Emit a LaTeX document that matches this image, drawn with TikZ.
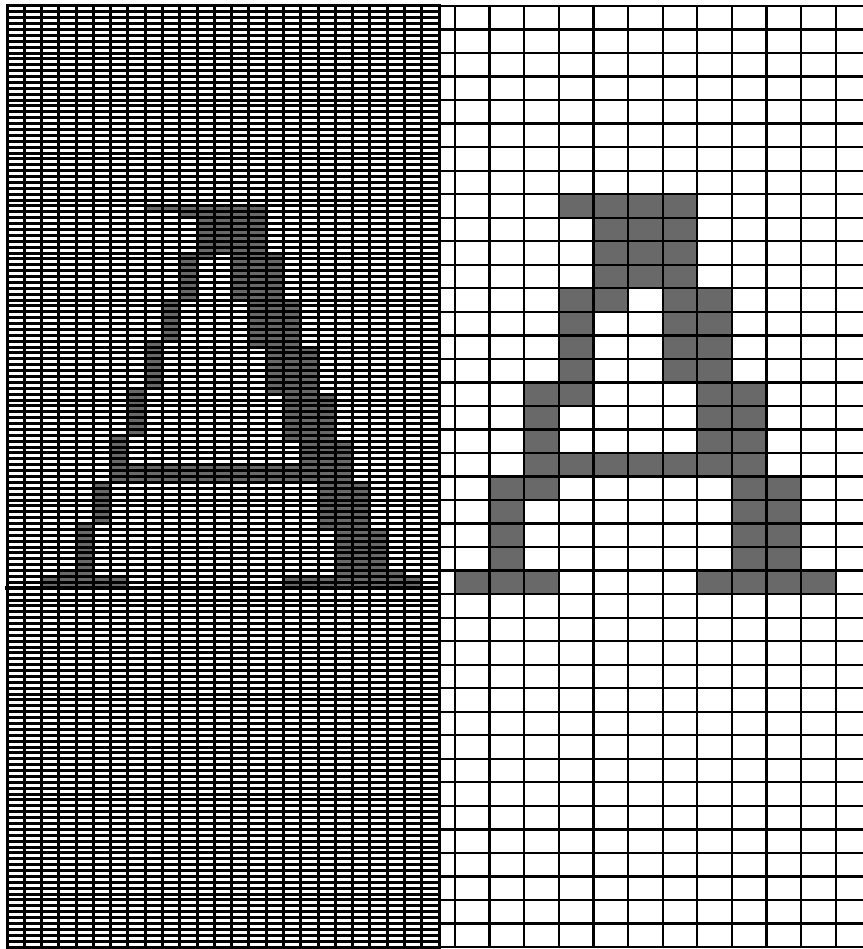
\documentclass[tikz,border=0pt]{standalone}
\definecolor{agray}{RGB}{105,105,105}
\newcommand{\lcell}[4]{\fill[agray] ({7+17.28*#1},{6+5.88125*#3}) rectangle ({7+17.28*(#2+1)},{6+5.88125*(#4+1)});}
\newcommand{\rcell}[4]{\fill[agray] ({455+34.61*(#1-1)},{6+23.525*#3}) rectangle ({455+34.61*#2},{6+23.525*(#4+1)});}
\tikzset{
  fineline/.style={line width=3pt, line cap=rect},
  coarseline/.style={line width=2.3pt, line cap=rect},
  baseline line/.style={line width=4.5pt, line cap=rect}
}
\begin{document}
\begin{tikzpicture}[x=1pt,y=-1pt]
\useasboundingbox (0,0) rectangle (862,949);
\fill[white] (0,0) rectangle (862,949);
% ---- left (fine) letter A
\lcell{8}{14}{34}{34}
\lcell{10}{14}{35}{35}
\lcell{11}{14}{36}{41}
\lcell{10}{11}{42}{42}
\lcell{13}{15}{42}{49}
\lcell{10}{10}{43}{49}
\lcell{9}{9}{50}{56}
\lcell{14}{16}{50}{57}
\lcell{8}{8}{57}{64}
\lcell{15}{17}{58}{65}
\lcell{7}{7}{65}{72}
\lcell{16}{18}{66}{73}
\lcell{6}{6}{73}{77}
\lcell{17}{19}{74}{77}
\lcell{6}{19}{78}{80}
\lcell{5}{5}{81}{87}
\lcell{18}{20}{81}{88}
\lcell{4}{4}{88}{96}
\lcell{19}{21}{89}{96}
\lcell{3}{3}{96}{96}
\lcell{22}{22}{96}{96}
\lcell{2}{6}{97}{98}
\lcell{16}{23}{97}{98}
% ---- right (coarse) letter A
\rcell{4}{7}{8}{8}
\rcell{5}{7}{9}{11}
\rcell{4}{5}{12}{12}
\rcell{7}{8}{12}{15}
\rcell{4}{4}{13}{15}
\rcell{3}{4}{16}{16}
\rcell{8}{9}{16}{18}
\rcell{3}{3}{17}{18}
\rcell{3}{9}{19}{19}
\rcell{2}{3}{20}{20}
\rcell{9}{10}{20}{23}
\rcell{2}{2}{21}{23}
\rcell{1}{3}{24}{24}
\rcell{8}{11}{24}{24}
% ---- fine grid
\foreach \j in {0,...,160} \draw[fineline] (7,{6+5.88125*\j}) -- (439,{6+5.88125*\j});
\foreach \k in {0,...,25} \draw[fineline] ({7+17.28*\k},6) -- ({7+17.28*\k},947);
\draw[baseline line] (7,{6+5.88125*99}) -- (439,{6+5.88125*99});
% ---- coarse grid
\foreach \i in {0,...,40} \draw[coarseline] (439,{6+23.525*\i}) -- (862,{6+23.525*\i});
\foreach \c in {0,...,11} \draw[coarseline] ({455+34.61*\c},6) -- ({455+34.61*\c},947);
\end{tikzpicture}
\end{document}
